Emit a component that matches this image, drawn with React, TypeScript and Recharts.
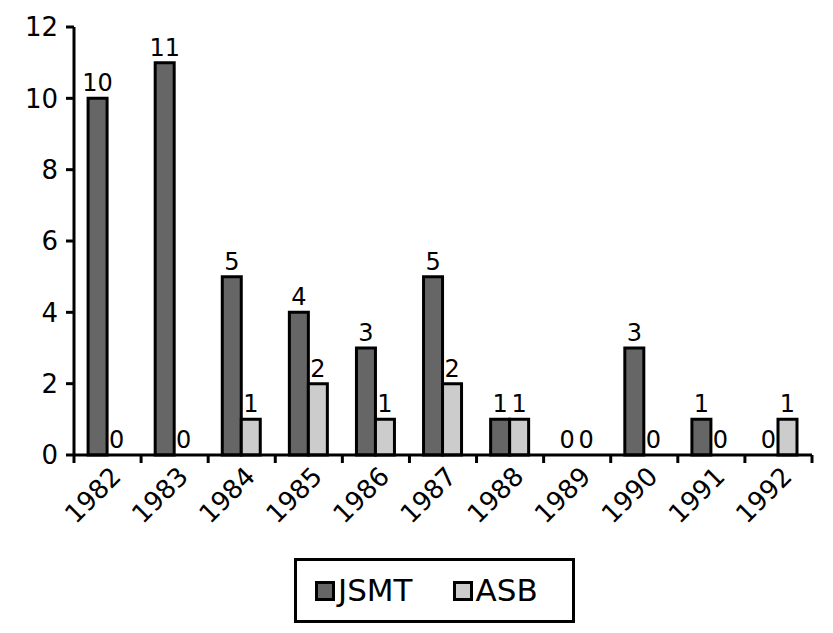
import React from "react";
import { BarChart, Bar, XAxis, YAxis, Legend, LabelList, Cell } from "recharts";

const years = ["1982", "1983", "1984", "1985", "1986", "1987", "1988", "1989", "1990", "1991", "1992"];
const jsmt = [10, 11, 5, 4, 3, 5, 1, 0, 3, 1, 0];
const asb = [0, 0, 1, 2, 1, 2, 1, 0, 0, 0, 1];
const yTicks = [0, 2, 4, 6, 8, 10, 12];
const seriesNames = ["JSMT", "ASB"];
const seriesValues = [jsmt, asb];
const seriesColors = ["#666666", "#cccccc"];

const data = years.map((y, i) => ({ year: y, JSMT: jsmt[i], ASB: asb[i] }));

const FONT = "'DejaVu Sans', sans-serif";
const W = 833;
const H = 633;
const M = { top: 27, right: 21, left: 0, bottom: 10 };
const Y_W = 74;
const BAND = (W - M.right - Y_W) / years.length;

const XTick = (props: any) => {
  const { x, y, payload, index } = props;
  const left = x - BAND / 2;
  const right = x + BAND / 2;
  const isLast = index === years.length - 1;
  return (
    <g>
      <line x1={left} y1={y - 8} x2={left} y2={y} stroke="#000" strokeWidth={3} />
      {isLast && <line x1={right} y1={y - 8} x2={right} y2={y} stroke="#000" strokeWidth={3} />}
      <text
        x={x + 15}
        y={y + 15}
        transform={`rotate(-45, ${x + 15}, ${y + 15})`}
        textAnchor="end"
        fontSize={26}
        fontFamily={FONT}
        fill="#000"
      >
        {payload.value}
      </text>
    </g>
  );
};

const LegendBox = () => (
  <div
    style={{
      width: 281,
      height: 65,
      boxSizing: "border-box",
      border: "3px solid #000",
      display: "flex",
      alignItems: "center",
      paddingLeft: 18,
      fontFamily: FONT,
      fontSize: 31,
      color: "#000",
      background: "#fff",
    }}
  >
    {seriesNames.map((n, i) => (
      <div key={n} style={{ display: "flex", alignItems: "center", marginRight: i === 0 ? 40 : 0 }}>
        <div
          style={{
            width: 20,
            height: 20,
            boxSizing: "border-box",
            border: "3.5px solid #000",
            background: seriesColors[i],
            marginRight: 3,
          }}
        />
        <span style={{ lineHeight: "31px" }}>{n}</span>
      </div>
    ))}
  </div>
);

export default function App() {
  return (
    <div style={{ position: "absolute", left: 0, top: 0, width: W, height: H, background: "#fff" }}>
      <BarChart width={W} height={H} data={data} margin={M} barCategoryGap="21%" barGap={0}>
        <YAxis
          width={Y_W}
          domain={[0, 12]}
          ticks={yTicks}
          interval={0}
          axisLine={{ stroke: "#000", strokeWidth: 3 }}
          tickLine={{ stroke: "#000", strokeWidth: 3 }}
          tickSize={8}
          tickMargin={8}
          tick={{ fontSize: 26, fontFamily: FONT, fill: "#000" }}
        />
        <XAxis
          dataKey="year"
          height={103}
          interval={0}
          axisLine={{ stroke: "#000", strokeWidth: 3 }}
          tickLine={false}
          tickSize={8}
          tickMargin={0}
          tick={<XTick />}
        />
        <Legend
          verticalAlign="bottom"
          content={<LegendBox />}
          wrapperStyle={{ left: 294, width: 281, height: 65, bottom: 10 }}
        />
        {seriesNames.map((n, i) => (
          <Bar
            key={n}
            dataKey={n}
            fill={seriesColors[i]}
            stroke="#000"
            strokeWidth={3}
            minPointSize={0.01}
            isAnimationActive={false}
          >
            {seriesValues[i].map((v, j) => (
              <Cell key={j} stroke={v === 0 ? "none" : "#000"} />
            ))}
            <LabelList dataKey={n} position="top" offset={7} fontSize={24} fontFamily={FONT} fill="#000" />
          </Bar>
        ))}
      </BarChart>
    </div>
  );
}
